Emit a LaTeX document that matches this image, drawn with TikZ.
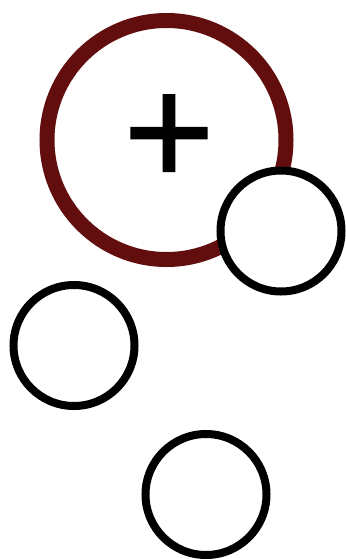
\documentclass[tikz,border=0pt]{standalone}
\usepackage{fontspec}
\setmainfont{Liberation Sans}
\newfontfamily\plusfont[FakeBold=1]{Liberation Sans}
\usetikzlibrary{positioning}
\definecolor{cdarkred}{RGB}{98,14,14}
\tikzset{
  ring/.style={circle, draw=#1, fill=white, inner sep=0pt},
  ring/.default=black,
  bigring/.style={ring=cdarkred, line width=7.5mm, minimum size=119.5mm},
  smallring/.style={ring=black, line width=4mm, minimum size=60.5mm}
}

\begin{document}
\begin{tikzpicture}[x=0.5mm, y=-0.5mm]
    \useasboundingbox (0,0) rectangle (346,559);
    \node[bigring]   (sum)   at (166.5,140) {};
    \node[inner sep=0pt, font=\plusfont\fontsize{222}{222}\selectfont] (plus) at (169,140) {+};
    \node[smallring] (right) at (281,231) {};
    \node[smallring] (left)  at (74,345.5) {};
    \node[smallring] (low)   at (206,494.5) {};
  \end{tikzpicture}
\end{document}
